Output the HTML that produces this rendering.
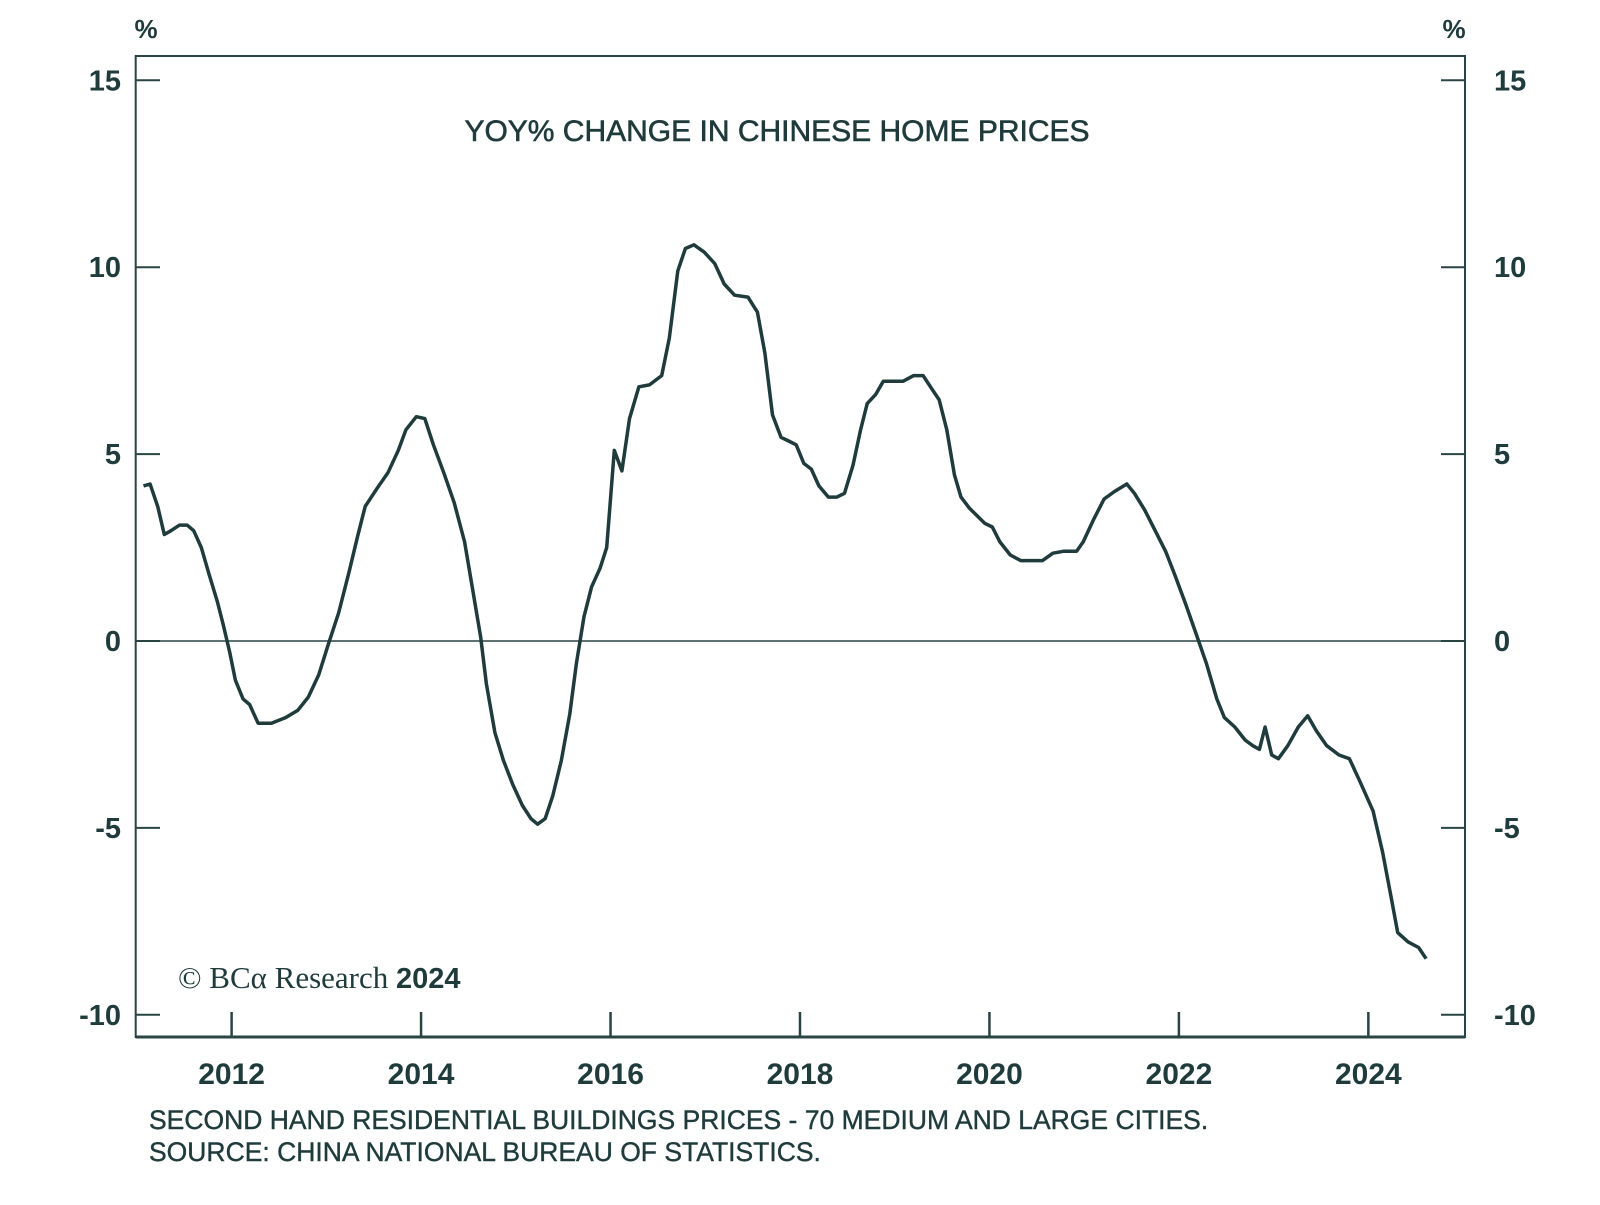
<!DOCTYPE html>
<html><head><meta charset="utf-8"><style>
body{margin:0;background:#fff;}
svg text{font-family:"Liberation Sans",sans-serif;fill:#1f3b3b;}
</style></head><body>
<svg id="chart" width="1600" height="1200" viewBox="0 0 1600 1200" xmlns="http://www.w3.org/2000/svg">
<rect x="135.7" y="56" width="1329.3" height="981" fill="none" stroke="#2a4444" stroke-width="2"/>
<line x1="135.7" x2="1465" y1="1037" y2="1037" stroke="#2a4444" stroke-width="3"/>
<text x="777" y="141" font-size="30" text-anchor="middle" stroke="#1f3b3b" stroke-width="0.6">YOY% CHANGE IN CHINESE HOME PRICES</text>
<text x="146" y="38" font-size="26" font-weight="bold" text-anchor="middle">%</text>
<text x="1454" y="38" font-size="26" font-weight="bold" text-anchor="middle">%</text>
<text x="178" y="988" font-size="31" style="font-family:'Liberation Serif',serif">© BCα Research <tspan font-family="Liberation Sans" font-weight="bold" font-size="29">2024</tspan></text>
<text x="149" y="1129" font-size="26.5" stroke="#1f3b3b" stroke-width="0.4">SECOND HAND RESIDENTIAL BUILDINGS PRICES - 70 MEDIUM AND LARGE CITIES.</text>
<text x="149" y="1161" font-size="26.5" stroke="#1f3b3b" stroke-width="0.4">SOURCE: CHINA NATIONAL BUREAU OF STATISTICS.</text>
<g id="axes"></g>
<path id="series" fill="none" stroke="#1f3b3b" stroke-width="3.5" stroke-linejoin="round"/>
</svg>
<script>
const dates=[2011.07,2011.14,2011.22,2011.29,2011.36,2011.45,2011.53,2011.60,2011.68,2011.76,2011.85,2011.91,2011.98,2012.04,2012.12,2012.19,2012.28,2012.42,2012.57,2012.70,2012.81,2012.92,2013.02,2013.13,2013.24,2013.33,2013.41,2013.54,2013.65,2013.76,2013.84,2013.95,2014.04,2014.13,2014.24,2014.35,2014.46,2014.54,2014.63,2014.69,2014.78,2014.87,2014.97,2015.07,2015.16,2015.23,2015.31,2015.39,2015.48,2015.57,2015.64,2015.72,2015.80,2015.89,2015.96,2016.04,2016.12,2016.20,2016.30,2016.41,2016.54,2016.62,2016.71,2016.79,2016.88,2016.99,2017.10,2017.20,2017.31,2017.45,2017.55,2017.63,2017.71,2017.80,2017.88,2017.96,2018.04,2018.12,2018.20,2018.30,2018.39,2018.47,2018.56,2018.64,2018.71,2018.80,2018.88,2018.98,2019.09,2019.20,2019.30,2019.39,2019.47,2019.55,2019.63,2019.70,2019.79,2019.87,2019.95,2020.03,2020.11,2020.22,2020.33,2020.46,2020.56,2020.67,2020.78,2020.92,2020.99,2021.10,2021.21,2021.32,2021.45,2021.53,2021.64,2021.75,2021.86,2021.96,2022.07,2022.18,2022.29,2022.40,2022.48,2022.59,2022.70,2022.78,2022.85,2022.91,2022.98,2023.05,2023.15,2023.26,2023.36,2023.45,2023.56,2023.69,2023.80,2023.91,2024.05,2024.15,2024.24,2024.31,2024.42,2024.53,2024.61];
const values=[4.15,4.2,3.6,2.85,2.95,3.1,3.1,2.95,2.5,1.8,1.05,0.45,-0.3,-1.05,-1.55,-1.7,-2.2,-2.2,-2.05,-1.85,-1.5,-0.9,-0.1,0.75,1.85,2.8,3.6,4.1,4.5,5.1,5.65,6.0,5.95,5.25,4.5,3.7,2.65,1.45,0.1,-1.15,-2.45,-3.2,-3.85,-4.4,-4.75,-4.9,-4.75,-4.15,-3.2,-1.95,-0.6,0.65,1.45,1.95,2.5,5.1,4.55,5.95,6.8,6.85,7.1,8.1,9.9,10.5,10.6,10.4,10.1,9.55,9.25,9.2,8.8,7.7,6.05,5.45,5.35,5.25,4.75,4.6,4.15,3.85,3.85,3.95,4.7,5.65,6.35,6.6,6.95,6.95,6.95,7.1,7.1,6.75,6.45,5.65,4.45,3.85,3.55,3.35,3.15,3.05,2.65,2.3,2.15,2.15,2.15,2.35,2.4,2.4,2.65,3.25,3.8,4.0,4.2,3.95,3.5,2.95,2.4,1.75,1.0,0.2,-0.6,-1.55,-2.05,-2.3,-2.65,-2.8,-2.9,-2.3,-3.05,-3.15,-2.8,-2.3,-2.0,-2.4,-2.8,-3.05,-3.15,-3.75,-4.55,-5.65,-6.85,-7.8,-8.05,-8.2,-8.5];
const yTicks=[15,10,5,0,-5,-10];
const yTickLabels=["15","10","5","0","-5","-10"];
const xTicks=[2012,2014,2016,2018,2020,2022,2024];
const xTickLabels=["2012","2014","2016","2018","2020","2022","2024"];
const NS="http://www.w3.org/2000/svg";
function xs(v){return 231.6+(v-2012)*94.73;}
function ys(v){return 641-v*37.38;}
const g=document.getElementById('axes');
function mk(t,a){const e=document.createElementNS(NS,t);for(const k in a)e.setAttribute(k,a[k]);g.appendChild(e);return e;}
yTicks.forEach((v,i)=>{
  const y=ys(v);
  if(v===0){const zl=mk('line',{x1:135.7,x2:1465,y1:y,y2:y,stroke:'#2a4444','stroke-width':1.5});
    
    }
  const tl=mk('line',{x1:135.7,x2:160,y1:y,y2:y,stroke:'#2a4444','stroke-width':2});
  
  
  const tr=mk('line',{x1:1441,x2:1465,y1:y,y2:y,stroke:'#2a4444','stroke-width':2});
  
  
  const l=mk('text',{x:121,y:y+10,'font-size':29,'font-weight':'bold','text-anchor':'end'});
  l.textContent=yTickLabels[i];
  
  
  const r=mk('text',{x:1494,y:y+10,'font-size':29,'font-weight':'bold','text-anchor':'start'});
  r.textContent=yTickLabels[i];
  
  
});
xTicks.forEach((v,i)=>{
  const x=xs(v);
  const t=mk('line',{x1:x,x2:x,y1:1012,y2:1037,stroke:'#2a4444','stroke-width':2.5});
  
  
  const l=mk('text',{x:x,y:1084,'font-size':30,'font-weight':'bold','text-anchor':'middle'});
  l.textContent=xTickLabels[i];
  
  
});
document.getElementById('series').setAttribute('d',dates.map((d,i)=>(i?'L':'M')+xs(d).toFixed(1)+' '+ys(values[i]).toFixed(1)).join(' '));
</script>
</body></html>
